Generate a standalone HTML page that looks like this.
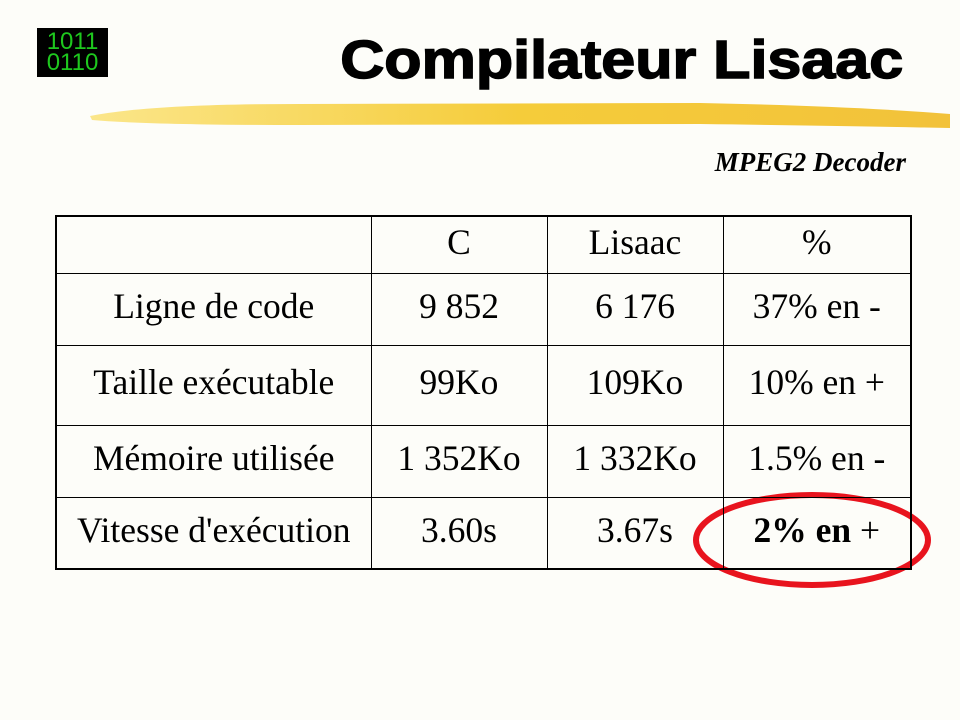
<!DOCTYPE html>
<html><head><meta charset="utf-8"><style>
body{margin:0;width:960px;height:720px;background:#fdfdf9;position:relative;overflow:hidden;font-family:"Liberation Serif",serif}
#icon{position:absolute;left:37px;top:28px;width:71px;height:49px;background:#000;color:#1ec81e;font-family:"Liberation Sans Narrow","Liberation Sans",sans-serif;font-size:24px;line-height:21px;text-align:center;padding-top:3px;box-sizing:border-box}
#title{position:absolute;right:57px;top:30px;font-family:"Liberation Sans",sans-serif;font-weight:bold;font-size:54px;line-height:60px;color:#000;-webkit-text-stroke:1.5px #000;transform:scaleX(1.13);transform-origin:right center}
#sub{position:absolute;right:54px;top:147px;font-style:italic;font-weight:bold;font-size:27px}
table{position:absolute;left:55px;top:215px;border-collapse:collapse;border:2px solid #000;table-layout:fixed}
td{border:1px solid #000;text-align:center;font-size:35.5px;padding:0 0 6px 0;overflow:hidden;white-space:nowrap}
</style></head><body>
<div id="icon">1011<br>0110</div>
<div id="title">Compilateur Lisaac</div>
<svg style="position:absolute;left:0;top:0" width="960" height="720">
<defs><linearGradient id="g" x1="0" x2="1"><stop offset="0" stop-color="#fbe68a"/><stop offset="0.5" stop-color="#f5cc3a"/><stop offset="1" stop-color="#f2c23a"/></linearGradient></defs>
<path d="M90 116 Q150 104 300 104 L700 103 Q850 106 950 114 L950 128 Q850 126 700 124 L300 125 Q150 125 92 120 Z" fill="url(#g)"/>
<ellipse cx="812" cy="540" rx="116" ry="45" fill="none" stroke="#e8141e" stroke-width="6"/>
</svg>
<div id="sub">MPEG2 Decoder</div>
<table style="width:857px">
<colgroup><col style="width:315px"><col style="width:176px"><col style="width:176px"><col style="width:188px"></colgroup>
<tr style="height:57px"><td></td><td>C</td><td>Lisaac</td><td>%</td></tr>
<tr style="height:72px"><td>Ligne de code</td><td>9 852</td><td>6 176</td><td>37% en -</td></tr>
<tr style="height:80px"><td>Taille exécutable</td><td>99Ko</td><td>109Ko</td><td>10% en +</td></tr>
<tr style="height:72px"><td>Mémoire utilisée</td><td>1 352Ko</td><td>1 332Ko</td><td>1.5% en -</td></tr>
<tr style="height:72px"><td>Vitesse d'exécution</td><td>3.60s</td><td>3.67s</td><td><b>2% en</b> +</td></tr>
</table>
</body></html>
